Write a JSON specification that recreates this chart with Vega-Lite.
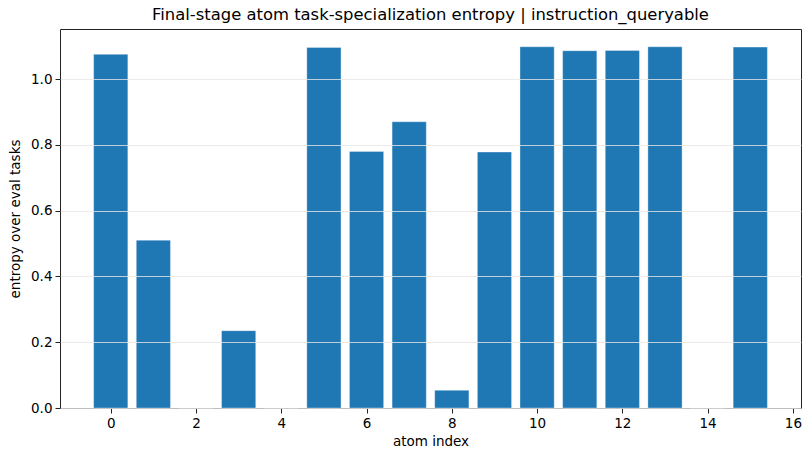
{
  "$schema": "https://vega.github.io/schema/vega-lite/v6.json",
  "width": 741,
  "height": 379,
  "autosize": "none",
  "padding": {"left": 60, "top": 29, "right": 2, "bottom": 44},
  "background": "white",
  "config": {
    "font": "DejaVu Sans",
    "view": {"stroke": "#222", "strokeWidth": 1},
    "axis": {
      "labelFont": "DejaVu Sans",
      "titleFont": "DejaVu Sans",
      "labelFontSize": 13.5,
      "titleFontSize": 13.5,
      "labelColor": "#000",
      "titleColor": "#000",
      "titleFontWeight": "normal",
      "tickColor": "#222",
      "domainColor": "#222",
      "tickSize": 5,
      "labelPadding": 3
    }
  },
  "title": {
    "text": "Final-stage atom task-specialization entropy | instruction_queryable",
    "font": "DejaVu Sans",
    "fontSize": 16.4,
    "fontWeight": "normal",
    "color": "#000",
    "offset": 6
  },
  "data": {
    "values": [
      {"atom": 0, "entropy": 1.075},
      {"atom": 1, "entropy": 0.51},
      {"atom": 2, "entropy": 0.0},
      {"atom": 3, "entropy": 0.235},
      {"atom": 4, "entropy": 0.0},
      {"atom": 5, "entropy": 1.096},
      {"atom": 6, "entropy": 0.78},
      {"atom": 7, "entropy": 0.87},
      {"atom": 8, "entropy": 0.054},
      {"atom": 9, "entropy": 0.778},
      {"atom": 10, "entropy": 1.098},
      {"atom": 11, "entropy": 1.086},
      {"atom": 12, "entropy": 1.087},
      {"atom": 13, "entropy": 1.098},
      {"atom": 14, "entropy": 0.0},
      {"atom": 15, "entropy": 1.097}
    ]
  },
  "mark": {"type": "bar", "width": 34.2, "color": "#1f77b4", "stroke": "#ffffff", "strokeOpacity": 0.35, "strokeWidth": 1},
  "encoding": {
    "x": {
      "field": "atom",
      "type": "quantitative",
      "scale": {"domain": [-1.19, 16.19], "nice": false, "zero": false, "padding": 0},
      "axis": {"title": "atom index", "values": [0, 2, 4, 6, 8, 10, 12, 14, 16], "format": "d", "grid": false, "domain": false, "titlePadding": 5}
    },
    "y": {
      "field": "entropy",
      "type": "quantitative",
      "scale": {"domain": [0, 1.152], "nice": false, "padding": 0},
      "axis": {
        "title": "entropy over eval tasks",
        "values": [0, 0.2, 0.4, 0.6, 0.8, 1.0],
        "format": ".1f",
        "grid": true,
        "gridColor": "#e6e6e6",
        "gridWidth": 1,
        "gridOpacity": 0.8,
        "domain": false,
        "zindex": 1,
        "titlePadding": 8
      }
    }
  }
}
